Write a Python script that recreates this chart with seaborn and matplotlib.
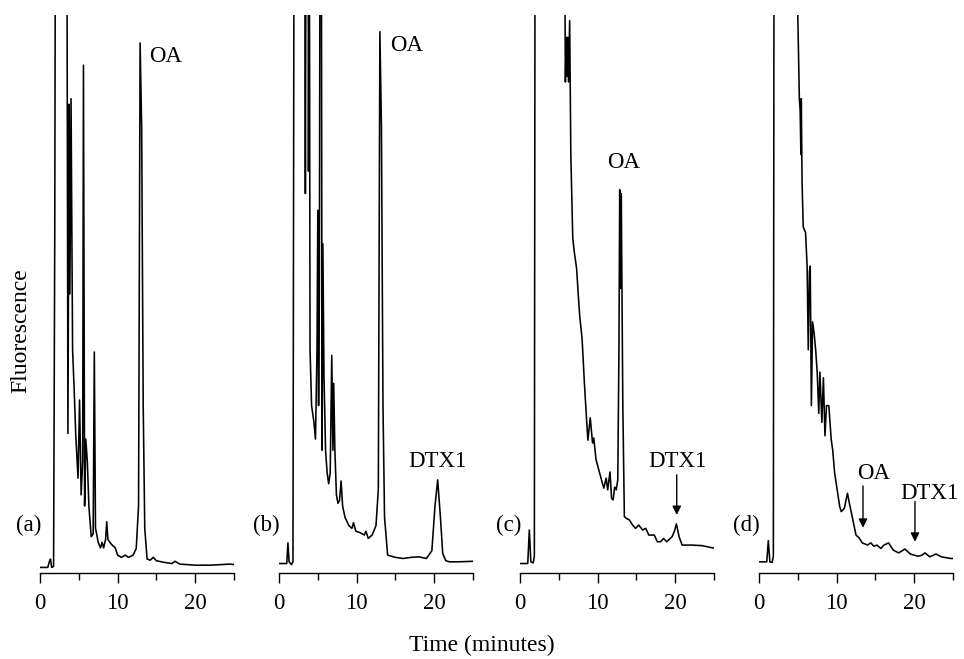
import matplotlib
matplotlib.use("Agg")
import pandas as pd
import matplotlib.pyplot as plt
import seaborn as sns

# chromatogram traces (time in minutes, signal in % of panel height)
# values above 100 are off-scale and get clipped at the top of the panel
time_a = [0.0, 1.0, 1.2, 1.35, 1.5, 1.75, 1.9, 2.0, 3.45, 3.6, 3.75, 3.85, 4.0, 4.2, 4.4, 4.6, 4.9,
          5.1, 5.3, 5.5, 5.6, 5.75, 5.9, 6.1, 6.3, 6.6, 6.85, 7.0, 7.15, 7.3, 7.5, 7.8, 8.0, 8.2,
          8.45, 8.6, 8.75, 9.0, 9.3, 9.7, 10.0, 10.5, 11.0, 11.4, 12.0, 12.4, 12.7, 12.9, 13.1,
          13.3, 13.5, 13.8, 14.2, 14.6, 15.0, 16.0, 17.0, 17.4, 18.0, 20.0, 22.0, 24.5, 25.0]
sig_a = [1.0, 1.0, 2.0, 2.5, 1.0, 1.2, 60, 130, 130, 25, 84, 50, 85, 40, 33, 25, 17,
         31, 14, 20, 91, 12, 24, 20, 12, 6.5, 7, 39.6, 8, 7, 5.5, 4.5, 5.5, 4.5,
         6, 9.2, 6, 5.5, 5, 4.5, 3.2, 2.8, 3.2, 2.8, 3.2, 4.4, 12, 95, 80,
         30, 8, 2.5, 2.3, 2.8, 2.2, 1.9, 1.7, 2.1, 1.6, 1.4, 1.4, 1.6, 1.5]

time_b = [0.0, 1.0, 1.15, 1.3, 1.6, 1.8, 1.95, 3.3, 3.4, 3.5, 3.75, 3.8, 3.9, 4.0, 4.2, 4.5, 4.7,
          4.9, 5.0, 5.1, 5.2, 5.3, 5.45, 5.55, 5.65, 5.8, 6.0, 6.2, 6.4, 6.6, 6.8, 6.95, 7.05,
          7.2, 7.4, 7.6, 7.8, 8.0, 8.2, 8.5, 9.0, 9.4, 9.6, 9.9, 10.5, 11.0, 11.2, 11.5, 12.0,
          12.5, 12.8, 13.0, 13.2, 13.4, 13.6, 14.0, 15.0, 16.0, 17.0, 18.0, 19.0, 19.7, 20.1,
          20.45, 20.8, 21.1, 21.5, 22.0, 23.0, 25.0]
sig_b = [1.7, 1.7, 5.4, 2.0, 1.5, 2.0, 130, 130, 68, 130, 130, 72, 130, 40, 30, 27, 24,
         40, 65, 30, 50, 130, 130, 22, 59, 35, 22, 18, 16, 18, 39, 22, 34,
         22, 14, 12.5, 13, 16.5, 12, 10, 8.5, 8, 9, 7.5, 7.2, 6.8, 7.5, 6.2, 6.8,
         8.5, 15, 97, 80, 30, 10, 3.2, 2.8, 2.6, 2.8, 2.9, 2.6, 4, 12,
         16.7, 10, 3.5, 2.2, 2.0, 2.0, 2.1]

time_c = [0.0, 1.0, 1.2, 1.4, 1.7, 1.85, 1.95, 5.7, 5.85, 5.95, 6.05, 6.15, 6.25, 6.4, 6.55, 6.8,
          7.0, 7.3, 7.5, 7.7, 8.0, 8.3, 8.6, 8.75, 9.05, 9.35, 9.5, 9.8, 10.5, 10.8, 11.1, 11.3,
          11.6, 11.8, 12.0, 12.2, 12.4, 12.6, 12.75, 12.85, 12.95, 13.05, 13.25, 13.45, 13.7,
          14.1, 14.5, 14.9, 15.3, 15.8, 16.2, 16.6, 17.3, 17.7, 18.1, 18.5, 18.9, 19.6, 19.9,
          20.15, 20.5, 20.9, 22.2, 23.5, 24.8, 25.0]
sig_c = [1.7, 1.7, 7.7, 2.0, 1.8, 3, 130, 130, 88, 96, 89, 96, 88, 99, 75, 60,
         57.5, 54.5, 50, 46, 42, 34, 27, 23.8, 27.8, 23.3, 24.2, 20.3, 16.7, 15.2, 17, 14.9,
         18.1, 13.4, 13.1, 15.4, 14.9, 16.7, 40, 68.7, 51, 68, 30, 10.1, 9.8,
         9.5, 8.6, 8.0, 8.6, 7.7, 8.0, 6.8, 6.8, 5.6, 5.6, 6.2, 5.6, 6.5, 7.5,
         8.8, 6.5, 5.0, 5.0, 4.9, 4.5, 4.5]

time_d = [0.0, 1.0, 1.2, 1.4, 1.7, 1.85, 1.95, 4.9, 5.0, 5.2, 5.3, 5.4, 5.45, 5.55, 5.7, 6.0,
          6.2, 6.35, 6.5, 6.6, 6.75, 6.9, 7.1, 7.3, 7.5, 7.7, 7.85, 8.1, 8.3, 8.5, 8.7, 9.0,
          9.3, 9.5, 9.75, 10.4, 10.6, 11.0, 11.4, 11.6, 12.1, 12.5, 12.9, 13.3, 14.0, 14.4,
          14.8, 15.2, 15.7, 16.1, 16.7, 17.3, 18.0, 18.8, 19.5, 20.5, 21.0, 21.4, 22.0, 22.8,
          23.5, 24.7, 25.0]
sig_d = [2.0, 2.0, 5.8, 2.0, 1.9, 3, 130, 130, 100, 85, 83, 75, 85, 70, 62, 61,
         55, 40, 54, 55, 30, 45, 43, 40, 36, 28.6, 36, 27, 35, 24.6, 30, 30,
         24, 22, 17.9, 11.9, 11.0, 11.6, 14.3, 12.8, 9.5, 6.8, 6.3, 5.4, 5.0, 5.4,
         4.8, 5.0, 4.4, 5.0, 5.4, 4.1, 3.6, 4.3, 3.4, 3.0, 3.2, 3.6, 2.9, 3.4,
         2.9, 2.6, 2.6]

panels = ["(a)", "(b)", "(c)", "(d)"]
times = [time_a, time_b, time_c, time_d]
signals = [sig_a, sig_b, sig_c, sig_d]

# peak labels: (panel, text, text x, text y, ha, arrow x or None, arrow start y, arrow end y)
labels = [
    (0, "OA", 14.1, 92.5, "left", None, None, None),
    (1, "OA", 14.3, 94.6, "left", None, None, None),
    (1, "DTX1", 20.4, 19.9, "center", None, None, None),
    (2, "OA", 13.3, 73.5, "center", None, None, None),
    (2, "DTX1", 20.3, 19.9, "center", 20.2, 17.6, 10.4),
    (3, "OA", 14.8, 17.9, "center", 13.4, 15.6, 8.1),
    (3, "DTX1", 21.9, 14.3, "center", 20.1, 12.8, 5.6),
]

df = pd.concat([pd.DataFrame({"time": t, "signal": s, "panel": p})
                for p, t, s in zip(panels, times, signals)])

sns.set_theme(style="white")
plt.rcParams["font.family"] = ["Liberation Serif", "DejaVu Serif"]
plt.rcParams["font.size"] = 16.5
plt.rcParams["text.color"] = "black"
plt.rcParams["xtick.color"] = "black"
plt.rcParams["axes.edgecolor"] = "black"

fig = plt.figure(figsize=(9.64, 6.59), dpi=100)
lefts = [40, 279, 520, 759]
axes = []
for i, p in enumerate(panels):
    ax = fig.add_axes([lefts[i] / 964, 86 / 659, 194 / 964, 558 / 659])
    sns.lineplot(data=df[df["panel"] == p], x="time", y="signal", estimator=None, sort=False,
                 color="black", lw=1.15, ax=ax)
    ax.set_xlim(0, 25)
    ax.set_ylim(0, 100)
    ax.set_xticks([0, 10, 20])
    ax.set_xticks([5, 15, 25], minor=True)
    ax.set_yticks([])
    ax.set_xlabel("")
    ax.set_ylabel("")
    sns.despine(ax=ax, left=True)
    ax.spines["bottom"].set_linewidth(1.0)
    ax.tick_params(axis="x", which="major", length=7.5, width=1.0, direction="out",
                   pad=7, labelsize=16.5, colors="black", bottom=True)
    ax.tick_params(axis="x", which="minor", length=5, width=1.0, direction="out",
                   colors="black", bottom=True)
    ax.text(0.005, 0.085, p, transform=ax.transAxes, ha="right", va="center", fontsize=16.5)
    axes.append(ax)

for idx, txt, tx, ty, ha, axx, ay0, ay1 in labels:
    ax = axes[idx]
    ax.text(tx, ty, txt, ha=ha, va="center", fontsize=16.5)
    if axx is not None:
        ax.annotate("", xy=(axx, ay1), xytext=(axx, ay0),
                    arrowprops=dict(arrowstyle="-|>", color="black", lw=1.0,
                                    mutation_scale=13, shrinkA=0, shrinkB=0))

fig.text(0.5, 0.021, "Time (minutes)", ha="center", va="center", fontsize=17)
fig.text(0.022, 0.498, "Fluorescence", rotation=90, ha="center", va="center", fontsize=17)

fig.savefig("out.png", dpi=100)
